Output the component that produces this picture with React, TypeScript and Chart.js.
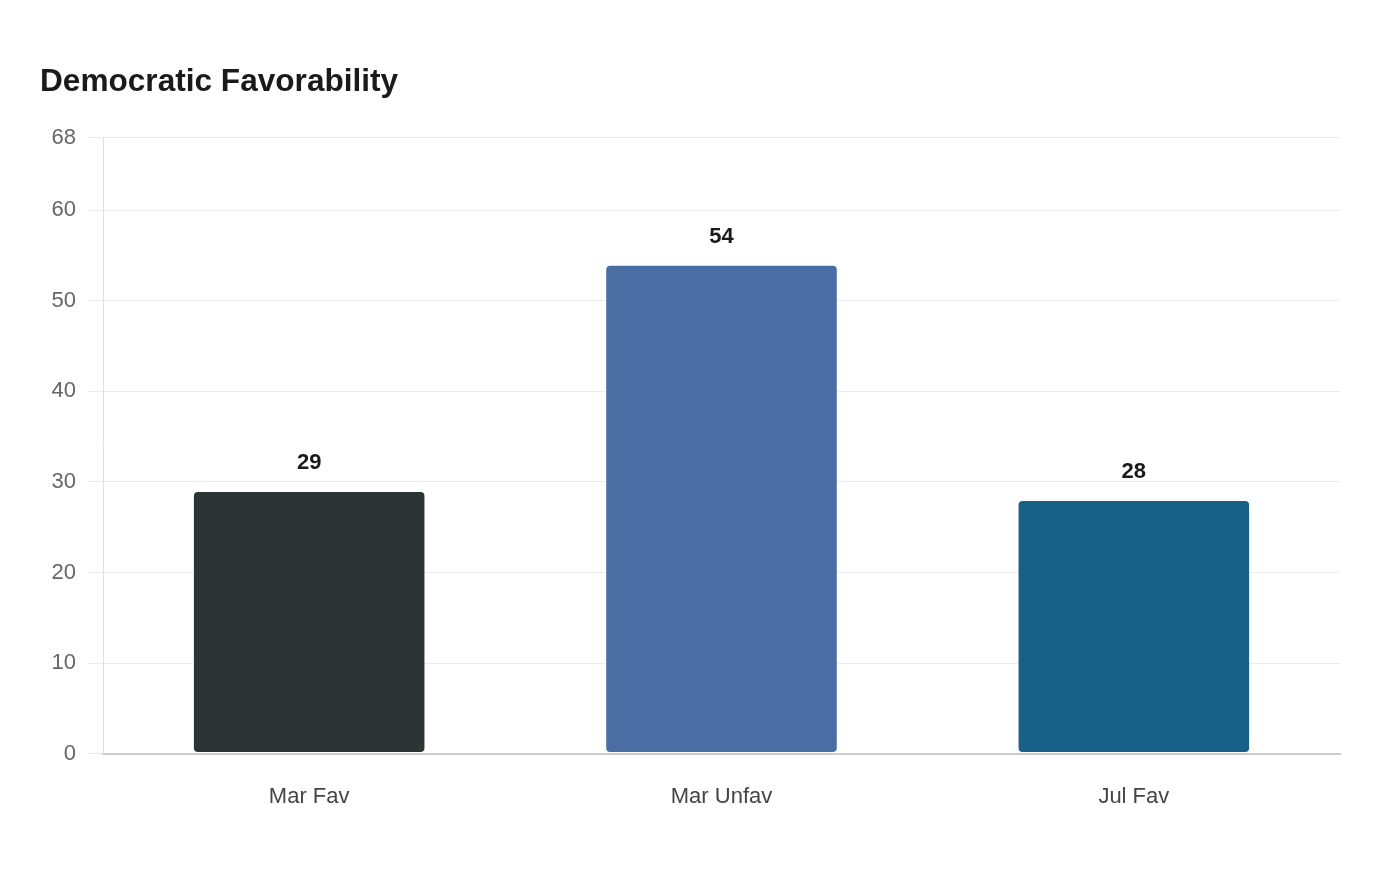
import React, { useEffect, useRef } from "react";
import { Chart, registerables } from "chart.js";

Chart.register(...registerables);

const categories = ["Mar Fav", "Mar Unfav", "Jul Fav"];
const values = [29, 54, 28];
const barColors = ["#2d3436", "#4a6ea3", "#186087"];
const yTickValues = [0, 10, 20, 30, 40, 50, 60, 68];
const titleText = "Democratic Favorability";

const FONT = "'Liberation Sans', Arial, Helvetica, sans-serif";

const valueLabels = {
  id: "valueLabels",
  afterDatasetsDraw(chart: any) {
    const ctx = chart.ctx;
    const meta = chart.getDatasetMeta(0);
    ctx.save();
    ctx.font = `bold 22px ${FONT}`;
    ctx.fillStyle = "#1a1a1a";
    ctx.textAlign = "center";
    ctx.textBaseline = "middle";
    meta.data.forEach((bar: any, i: number) => {
      ctx.fillText(String(values[i]), bar.x, bar.y - 28);
    });
    ctx.restore();
  },
};

export default function App() {
  const ref = useRef<HTMLCanvasElement | null>(null);
  useEffect(() => {
    if (!ref.current) return;
    const chart = new Chart(ref.current, {
      type: "bar",
      data: {
        labels: categories,
        datasets: [
          {
            data: values,
            backgroundColor: barColors,
            borderColor: "rgba(255,255,255,0.55)",
            borderWidth: 1,
            borderSkipped: false,
            borderRadius: 5,
            categoryPercentage: 0.8,
            barPercentage: 0.705,
          },
        ],
      },
      options: {
        animation: false,
        responsive: true,
        maintainAspectRatio: false,
        layout: { padding: { top: 55, left: 32, right: 52, bottom: 32 } },
        plugins: {
          legend: { display: false },
          tooltip: { enabled: false },
          title: {
            display: true,
            text: titleText,
            align: "start",
            color: "#1a1a1a",
            font: { family: FONT, size: 31.6, weight: "bold" },
            padding: { top: 0, bottom: 37 },
          },
        },
        scales: {
          x: {
            grid: { display: false, drawTicks: false },
            border: { display: true, color: "#cccccc", width: 2 },
            ticks: { color: "#444444", font: { family: FONT, size: 22 }, padding: 30 },
          },
          y: {
            min: 0,
            max: 68,
            afterBuildTicks: (scale: any) => {
              scale.ticks = yTickValues.map((v) => ({ value: v }));
            },
            afterFit: (scale: any) => {
              scale.width = 63;
            },
            grid: { color: "#ebebeb", lineWidth: 1, tickLength: 15, tickColor: "#ebebeb" },
            border: { display: true, color: "#e0e0e0", width: 1 },
            ticks: { color: "#666666", font: { family: FONT, size: 22 }, padding: 12 },
          },
        },
      },
      plugins: [valueLabels],
    });
    return () => chart.destroy();
  }, []);
  return (
    <div style={{ width: 1384, height: 864, background: "#ffffff" }}>
      <canvas ref={ref} />
    </div>
  );
}
